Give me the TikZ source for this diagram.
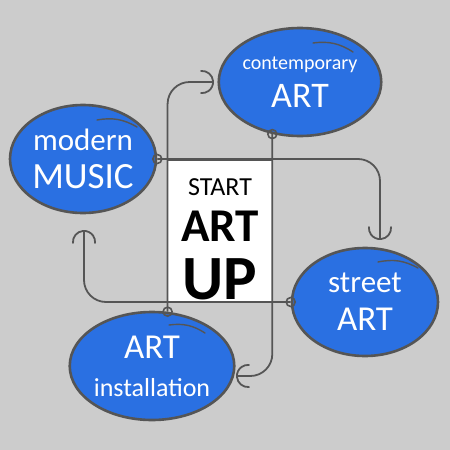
\documentclass[tikz,border=0pt]{standalone}
\usepackage{fontspec}
\setmainfont{Carlito}
\usetikzlibrary{arrows.meta, shapes.geometric}

\definecolor{bubbleblue}{RGB}{42,112,226}
\definecolor{inkgray}{RGB}{85,85,85}
\definecolor{paper}{RGB}{204,204,204}

\begin{document}
\begin{tikzpicture}[x=1pt, y=-1pt,
    bubble/.style={draw=inkgray, line width=2.6pt, fill=bubbleblue, ellipse, minimum width=146pt, minimum height=108pt, inner sep=0pt, text=white, align=center, font=\fontsize{20}{38}\selectfont},
    link/.style={draw=inkgray, line width=1.8pt, rounded corners=22pt, -{Arc Barb[length=12pt, arc=190, line cap=round]}},
    knot/.style={draw=inkgray, line width=1.6pt, circle, inner sep=0pt, minimum size=9pt},
    sketch/.style={draw=inkgray, line width=1.4pt, line cap=round}]
    \fill[paper] (0,0) rectangle (450,450);

    % Bubbles
    \node[bubble] (music) at (83,159) {{\fontsize{31}{31}\selectfont modern}\\{\fontsize{37}{37}\selectfont MUSIC}};
    \node[bubble] (contemp) at (300,82) {{\fontsize{20}{20}\selectfont contemporary}\\{\fontsize{36}{36}\selectfont ART}};
    \node[bubble] (street) at (365,302) {{\fontsize{31}{31}\selectfont street}\\{\fontsize{35}{35}\selectfont ART}};
    \node[bubble] (install) at (152,366) {{\fontsize{35}{35}\selectfont ART}\\{\fontsize{26}{26}\selectfont installation}};

    % Pen strokes over the bubbles
    \draw[sketch] (music.center) ++(14,-39) to[bend left=20] ++(40,7);
    \draw[sketch] (contemp.center) ++(13,-39) to[bend left=20] ++(40,9);
    \draw[sketch] (street.center) ++(13,-40) to[bend left=20] ++(40,6);
    \draw[sketch] (install.center) ++(17,-41) to[bend left=20] ++(36,8);

    % Centre box
    \node[draw=inkgray, fill=white, line width=1pt, minimum width=105pt, minimum height=142pt, inner sep=0pt, align=center, font=\fontsize{26}{46}\selectfont] (hub) at (220,231) {\rule{0pt}{34pt}START\\{\fontsize{47}{47}\selectfont\bfseries ART}\\[12pt]{\fontsize{63}{63}\selectfont\bfseries UP}};

    % Connections
    \coordinate (tipE) at (380,240);
    \coordinate (tipS) at (236,376);
    \coordinate (tipW) at (84,230);
    \coordinate (tipN) at (214,82);
    \draw[link] (music.east) -| (tipE);
    \draw[link] (contemp.242) |- (tipS);
    \draw[link] (street.west) -| (tipW);
    \draw[link] (install.74) |- (tipN);

    % Knots
    \node[knot] (k1) at (music.east) {};
    \node[knot] (k2) at (contemp.242) {};
    \node[knot] (k3) at (street.west) {};
    \node[knot] (k4) at (install.74) {};
\end{tikzpicture}
\end{document}
